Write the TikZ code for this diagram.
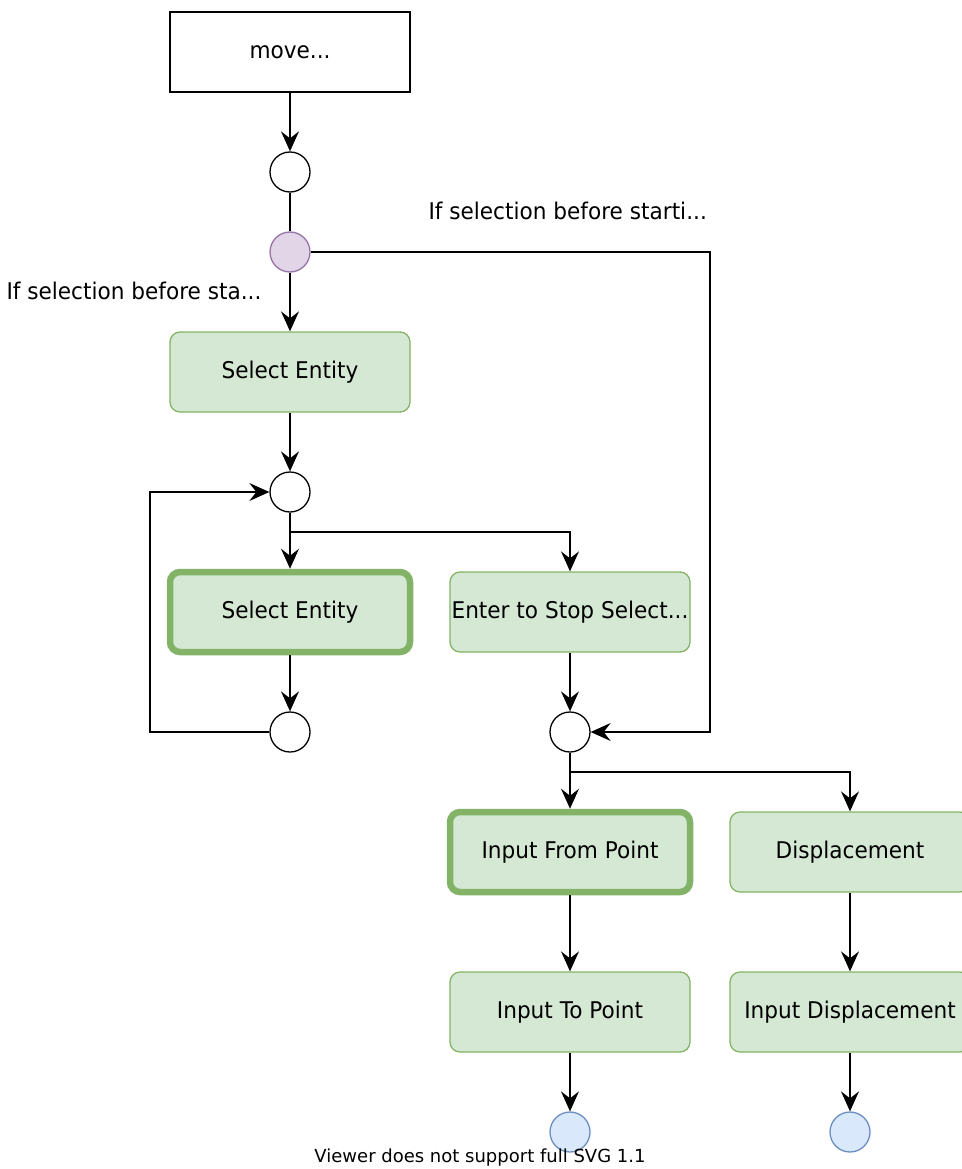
\documentclass[tikz,border=0pt]{standalone}
\usepackage{fontspec}
\setmainfont[FakeStretch=0.94]{DejaVu Sans}
\newfontfamily\viewerfont{DejaVu Sans}
\usetikzlibrary{arrows.meta}
\definecolor{stepfill}{HTML}{D5E8D4}
\definecolor{stepline}{HTML}{82B366}
\definecolor{pickfill}{HTML}{E1D5E7}
\definecolor{pickline}{HTML}{9673A6}
\definecolor{endfill}{HTML}{DAE8FC}
\definecolor{endline}{HTML}{6C8EBF}
\tikzset{
  actbox/.style={draw=stepline,fill=stepfill,rounded corners=10pt,line width=1.3pt,
    minimum width=240pt,minimum height=80pt,inner sep=0pt,font=\fontsize{23}{27}\selectfont},
  actboxhot/.style={actbox,line width=6.5pt},
  knot/.style={draw,circle,fill=white,line width=1.3pt,minimum size=40pt,inner sep=0pt},
  flow/.style={line width=1.4pt,-{Stealth[length=20pt,width=18pt,inset=7pt]}},
  plain/.style={line width=1.4pt},
  note/.style={font=\fontsize{23}{27}\selectfont}
}
\begin{document}
\begin{tikzpicture}[x=1pt,y=-1pt]
  \useasboundingbox (0,0) rectangle (961,1169);

  % top of the chart
  \node [draw,line width=1.3pt,minimum width=240pt,minimum height=80pt,inner sep=0pt,
         font=\fontsize{23}{27}\selectfont] (move) at (290,52) {move...};
  \node [knot] (start) at (290,172) {};
  \node [knot,fill=pickfill,draw=pickline] (pick) at (290,252) {};
  \draw [flow] (move) -- (start);  \draw [plain] (start) -- (pick);

  \node [note,anchor=east] (noteL) at (265,291) {If selection before sta...};
  \node [note,anchor=west] (noteR) at (425,211) {If selection before starti...};

  % selection loop
  \node [actbox] (selA) at (290,372) {Select Entity};
  \node [knot] (loopIn) at (290,492) {};
  \node [actboxhot] (selB) at (290,612) {Select Entity};
  \node [actbox] (stop) at (570,612) {Enter to Stop Select...};
  \node [knot] (loopOut) at (290,732) {};
  \node [knot] (join) at (570,732) {};
  \coordinate (forkA) at (290,532);  \coordinate (railL) at (150,732);  \coordinate (railR) at (710,252);

  \draw [flow] (pick) -- (selA);  \draw [flow] (selA) -- (loopIn);
  \draw [flow] (loopIn) -- (selB);  \draw [flow] (loopIn.south) -- (forkA) -| (stop.north);
  \draw [flow] (selB) -- (loopOut);  \draw [flow] (loopOut.west) -- (railL) |- (loopIn.west);
  \draw [flow] (stop) -- (join);
  \draw [flow] (pick.east) -- (railR) |- (join.east);

  % moving
  \node [actboxhot] (fromPt) at (570,852) {Input From Point};
  \node [actbox] (disp) at (850,852) {Displacement};
  \node [actbox] (toPt) at (570,1012) {Input To Point};
  \node [actbox] (dispIn) at (850,1012) {Input Displacement};
  \node [knot,fill=endfill,draw=endline] (endA) at (570,1132) {};
  \node [knot,fill=endfill,draw=endline] (endB) at (850,1132) {};
  \coordinate (forkB) at (570,772);

  \draw [flow] (join) -- (fromPt);  \draw [flow] (join.south) -- (forkB) -| (disp.north);
  \draw [flow] (fromPt) -- (toPt);  \draw [flow] (disp) -- (dispIn);
  \draw [flow] (toPt) -- (endA);  \draw [flow] (dispIn) -- (endB);

  \node [font=\viewerfont\fontsize{18}{21}\selectfont] (viewer) at (480,1158) {Viewer does not support full SVG 1.1};

\end{tikzpicture}
\end{document}
